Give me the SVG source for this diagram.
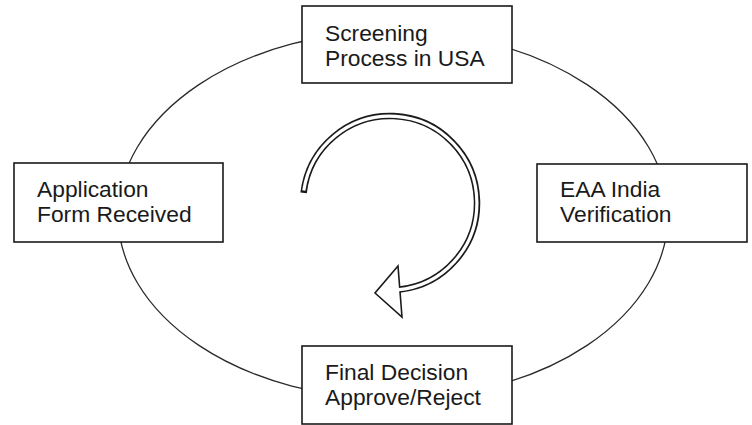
<svg xmlns="http://www.w3.org/2000/svg" width="752" height="425" viewBox="0 0 752 425">
  <style>
    .box { fill: #ffffff; stroke: #1a1a1a; stroke-width: 1.6; }
    .lbl { font-family: "Liberation Sans", Arial, sans-serif; font-size: 22.8px; fill: #1a1a1a; }
    .ring { fill: none; stroke: #2a2a2a; stroke-width: 1.3; }
    .band-out { fill: none; stroke: #1a1a1a; stroke-width: 6.5; }
    .band-in { fill: none; stroke: #ffffff; stroke-width: 3.2; }
  </style>
  <rect x="0" y="0" width="752" height="425" fill="#ffffff"/>
  <g id="connectors">
    <ellipse class="ring" cx="393" cy="215" rx="275" ry="184"/>
    <g id="cycle-arrow">
      <path class="band-out" d="M 303.6 192.9 A 87 87 0 1 1 399.7 289.5"/>
      <polygon points="398,266 375,293 402,317" fill="#ffffff" stroke="#1a1a1a" stroke-width="1.6" stroke-linejoin="miter"/>
      <path class="band-in" d="M 303.8 190.6 A 87 87 0 1 1 397 289.8"/>
    </g>
  </g>
  <g id="node-screening">
    <rect class="box" x="302" y="6" width="210" height="77"/>
    <text class="lbl" x="325" y="41">Screening</text>
    <text class="lbl" x="325" y="66">Process in USA</text>
  </g>
  <g id="node-application">
    <rect class="box" x="14" y="163" width="209" height="79"/>
    <text class="lbl" x="37" y="197">Application</text>
    <text class="lbl" x="37" y="222">Form Received</text>
  </g>
  <g id="node-eaa">
    <rect class="box" x="537" y="164" width="210" height="78"/>
    <text class="lbl" x="560" y="197">EAA India</text>
    <text class="lbl" x="560" y="222">Verification</text>
  </g>
  <g id="node-decision">
    <rect class="box" x="302" y="346" width="210" height="78"/>
    <text class="lbl" x="325" y="380">Final Decision</text>
    <text class="lbl" x="325" y="405">Approve/Reject</text>
  </g>
</svg>
